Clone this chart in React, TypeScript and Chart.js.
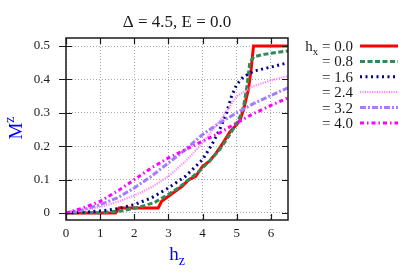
import React, { useEffect, useRef } from 'react';
import { Chart, registerables } from 'chart.js';

Chart.register(...registerables);

const TITLE = 'Δ = 4.5, E = 0.0';
const X_TICKS = [0, 1, 2, 3, 4, 5, 6];
const Y_TICKS = [0, 0.1, 0.2, 0.3, 0.4, 0.5];
const Y_TICK_LABELS = ['0', '0.1', '0.2', '0.3', '0.4', '0.5'];
const HX_LABELS = ['0.0', '0.8', '1.6', '2.4', '3.2', '4.0'];

// hx = 0.0
const hzA = [0, 1.45, 1.55, 2.7, 2.8, 3.0, 3.2, 3.4, 3.6, 3.8, 4.0, 4.2, 4.4, 4.6, 4.8, 5.0, 5.1, 5.2, 5.34, 5.42, 5.49, 6.5];
const mA = [0, 0, 0.015, 0.015, 0.035, 0.05, 0.065, 0.08, 0.1, 0.11, 0.14, 0.155, 0.18, 0.21, 0.243, 0.265, 0.28, 0.31, 0.37, 0.43, 0.5, 0.5];
// hx = 0.8
const hzB = [0, 1.0, 1.6, 2.0, 2.3, 2.6, 2.8, 3.0, 3.3, 3.6, 3.9, 4.2, 4.5, 4.8, 5.0, 5.1, 5.2, 5.3, 5.38, 5.5, 5.8, 6.1, 6.5];
const mB = [0, 0.001, 0.006, 0.014, 0.022, 0.032, 0.044, 0.056, 0.076, 0.1, 0.125, 0.155, 0.19, 0.235, 0.27, 0.29, 0.32, 0.38, 0.45, 0.468, 0.475, 0.48, 0.485];
// hx = 1.6
const hzC = [0, 0.5, 1.0, 1.5, 2.0, 2.5, 3.0, 3.5, 4.0, 4.3, 4.5, 4.7, 4.85, 5.0, 5.2, 5.5, 6.0, 6.5];
const mC = [0, 0.002, 0.006, 0.013, 0.025, 0.045, 0.075, 0.11, 0.16, 0.21, 0.25, 0.3, 0.35, 0.385, 0.408, 0.425, 0.437, 0.45];
// hx = 2.4
const hzD = [0, 0.5, 1.0, 1.5, 2.0, 2.5, 3.0, 3.5, 4.0, 4.5, 4.8, 5.0, 5.5, 6.0, 6.5];
const mD = [0, 0.008, 0.018, 0.033, 0.052, 0.077, 0.11, 0.155, 0.21, 0.275, 0.32, 0.35, 0.38, 0.397, 0.41];
// hx = 3.2
const hzE = [0, 0.5, 1.0, 1.5, 2.0, 2.5, 3.0, 3.5, 4.0, 4.5, 5.0, 5.5, 6.0, 6.5];
const mE = [0, 0.01, 0.025, 0.045, 0.075, 0.11, 0.15, 0.19, 0.235, 0.27, 0.3, 0.328, 0.352, 0.375];
// hx = 4.0
const hzF = [0, 0.5, 1.0, 1.5, 2.0, 2.5, 3.0, 3.5, 4.0, 4.5, 5.0, 5.5, 6.0, 6.5];
const mF = [0, 0.015, 0.035, 0.065, 0.1, 0.135, 0.165, 0.19, 0.215, 0.24, 0.27, 0.298, 0.322, 0.345];

const SERIES = [
  { hz: hzA, m: mA, color: '#ff0000', dash: [] as number[], width: 3 },
  { hz: hzB, m: mB, color: '#2e8b57', dash: [5, 2.5], width: 3 },
  { hz: hzC, m: mC, color: '#00008b', dash: [2, 3.5], width: 3 },
  { hz: hzD, m: mD, color: '#ff88ff', dash: [1.2, 1.2], width: 2.2 },
  { hz: hzE, m: mE, color: '#a57cff', dash: [6, 2, 2, 2], width: 3 },
  { hz: hzF, m: mF, color: '#ff00ff', dash: [4, 3, 1.5, 3], width: 3 },
];

const SERIF = '"Liberation Serif", "DejaVu Serif", serif';

const overlay = {
  id: 'overlay',
  afterDraw(chart: any) {
    const { ctx, chartArea: a } = chart;
    const x = chart.scales.x;
    const y = chart.scales.y;
    ctx.save();
    ctx.setLineDash([]);
    // border
    ctx.strokeStyle = '#1a1a1a';
    ctx.lineWidth = 1.5;
    ctx.strokeRect(a.left, a.top, a.right - a.left, a.bottom - a.top);
    // tick marks
    ctx.lineWidth = 1.2;
    ctx.beginPath();
    for (const v of X_TICKS) {
      const px = Math.round(x.getPixelForValue(v)) + 0.5;
      ctx.moveTo(px, a.bottom);
      ctx.lineTo(px, a.bottom - 6);
      ctx.moveTo(px, a.top);
      ctx.lineTo(px, a.top + 6);
    }
    for (const v of Y_TICKS) {
      const py = Math.round(y.getPixelForValue(v)) + 0.5;
      ctx.moveTo(a.left - 7, py);
      ctx.lineTo(a.left + 6, py);
      ctx.moveTo(a.right, py);
      ctx.lineTo(a.right - 6, py);
    }
    ctx.stroke();

    // tick labels
    ctx.fillStyle = '#1a1a1a';
    ctx.font = `13px ${SERIF}`;
    ctx.textBaseline = 'middle';
    ctx.textAlign = 'right';
    Y_TICKS.forEach((v, i) => {
      ctx.fillText(Y_TICK_LABELS[i], a.left - 16, y.getPixelForValue(v));
    });
    ctx.textAlign = 'center';
    X_TICKS.forEach((v) => {
      ctx.fillText(String(v), x.getPixelForValue(v), a.bottom + 14);
    });

    // title
    ctx.font = `17px ${SERIF}`;
    ctx.textBaseline = 'alphabetic';
    ctx.textAlign = 'center';
    ctx.fillText(TITLE, (a.left + a.right) / 2, 27);

    // x axis title h_z
    ctx.fillStyle = '#0000ff';
    ctx.textAlign = 'left';
    const big = `19px ${SERIF}`;
    const small = `14px ${SERIF}`;
    ctx.font = big;
    const wh = ctx.measureText('h').width;
    ctx.font = small;
    const wz = ctx.measureText('z').width;
    const cx = (a.left + a.right) / 2;
    const sx = cx - (wh + wz) / 2;
    ctx.font = big;
    ctx.fillText('h', sx, 260);
    ctx.font = small;
    ctx.fillText('z', sx + wh, 265);

    // y axis title M^z
    ctx.save();
    ctx.translate(22, 128);
    ctx.rotate(-Math.PI / 2);
    ctx.font = big;
    const wm = ctx.measureText('M').width;
    ctx.font = small;
    const wz2 = ctx.measureText('z').width;
    const sx2 = -(wm + wz2) / 2;
    ctx.font = big;
    ctx.fillText('M', sx2, 0);
    ctx.font = small;
    ctx.fillText('z', sx2 + wm, -8);
    ctx.restore();

    // legend
    ctx.fillStyle = '#1a1a1a';
    const textRight = 353;
    SERIES.forEach((s, i) => {
      const cy = 46 + i * 15.4;
      const base = cy + 5;
      ctx.font = `15px ${SERIF}`;
      ctx.textAlign = 'right';
      const txt = '= ' + HX_LABELS[i];
      ctx.fillText(txt, textRight, base);
      if (i === 0) {
        const w = ctx.measureText(txt + ' ').width;
        ctx.font = `11px ${SERIF}`;
        const wx = ctx.measureText('x').width;
        ctx.fillText('x', textRight - w, base + 4);
        ctx.font = `15px ${SERIF}`;
        ctx.fillText('h', textRight - w - wx, base);
      }
      ctx.strokeStyle = s.color;
      ctx.lineWidth = s.width;
      ctx.setLineDash(s.dash);
      ctx.beginPath();
      ctx.moveTo(360, cy);
      ctx.lineTo(398, cy);
      ctx.stroke();
      ctx.setLineDash([]);
    });
    ctx.restore();
  },
};

export default function App() {
  const ref = useRef<HTMLCanvasElement>(null);
  useEffect(() => {
    if (!ref.current) return;
    const chart = new Chart(ref.current, {
      type: 'line',
      data: {
        datasets: SERIES.map((s, i) => ({
          label: 'hx = ' + HX_LABELS[i],
          data: s.hz.map((h, j) => ({ x: h, y: s.m[j] })),
          borderColor: s.color,
          backgroundColor: s.color,
          borderWidth: s.width,
          borderDash: s.dash,
          pointRadius: 0,
          tension: 0,
          fill: false,
          order: SERIES.length - i,
        })),
      },
      options: {
        animation: false,
        responsive: false,
        devicePixelRatio: 1,
        layout: { padding: { left: 66, right: 127, top: 38, bottom: 57 } },
        plugins: { legend: { display: false }, title: { display: false }, tooltip: { enabled: false } },
        scales: {
          x: {
            type: 'linear',
            min: 0,
            max: 6.5,
            afterBuildTicks: (sc: any) => {
              sc.ticks = X_TICKS.map((v) => ({ value: v }));
            },
            ticks: { display: false },
            grid: { color: '#a8a8a8', lineWidth: 1, drawTicks: false },
            border: { display: false, dash: [1, 2] },
          },
          y: {
            type: 'linear',
            min: -0.021,
            max: 0.524,
            afterBuildTicks: (sc: any) => {
              sc.ticks = Y_TICKS.map((v) => ({ value: v }));
            },
            ticks: { display: false },
            grid: { color: '#a8a8a8', lineWidth: 1, drawTicks: false },
            border: { display: false, dash: [1, 2] },
          },
        },
      },
      plugins: [overlay],
    });
    return () => chart.destroy();
  }, []);
  return (
    <div style={{ position: 'absolute', left: 0, top: 0, width: 415, height: 277, background: '#fff' }}>
      <canvas ref={ref} width={415} height={277} style={{ width: 415, height: 277 }} />
    </div>
  );
}
